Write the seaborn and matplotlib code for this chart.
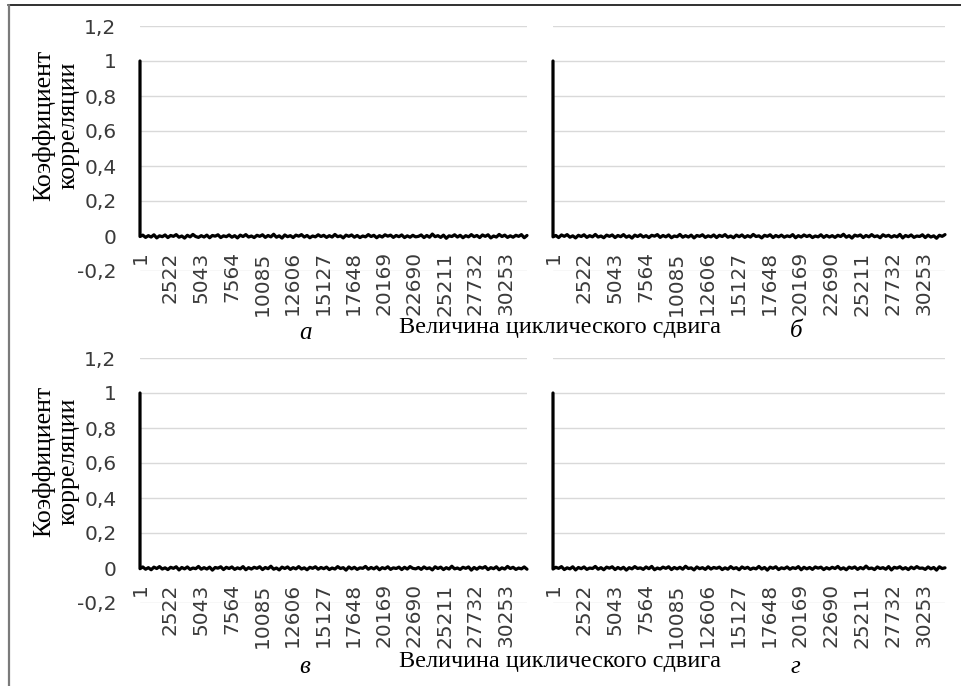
import numpy as np
import pandas as pd
import matplotlib
matplotlib.use("Agg")
import matplotlib.pyplot as plt
from matplotlib.lines import Line2D
import seaborn as sns

# ---------------- data ----------------
x_tick_values = [1, 2522, 5043, 7564, 10085, 12606, 15127, 17648,
                 20169, 22690, 25211, 27732, 30253]
y_tick_values = [-0.2, 0.0, 0.2, 0.4, 0.6, 0.8, 1.0, 1.2]
y_tick_labels = ["-0,2", "0", "0,2", "0,4", "0,6", "0,8", "1", "1,2"]
max_shift = 32000
peak_value = 1.0

# side-lobe values (in thousandths)
noise_a_milli = [-3, 5, -8, 2, -6, 7, -11, 1, -4, 6, -9, 3, -2, 8, -7, 0, -12, 4, -5, 9,
                 -3, -8, 2, -6, 5, -10, 3, -1, 7, -9, 1, -4, 6, -7, 2, -11, 5, -3, 8, -6,
                 0, -9, 4, -2, 7, -8, 3, -5, 10, -7, 1, -12, 6, -4, 2, -9, 5, -1, 8, -6,
                 3, -10, 0, -5, 7, -3, 4, -8, 2, -6, 9, -4, 1, -11, 5, -2, 6, -7, 3, -9,
                 0, -5, 8, -3, 4, -10, 2, -6, 7, -1, 5, -8, 3, -4, 6, -9, 1, -7, 4, -5,
                 -2, 6, -9, 3, -7, 11, -4, 2, -8, 5, -13, 1, -3, 7, -6, 4, -10, 2, -5, 8,
                 -4, 3, -9, 6, -2, 7, -11, 0, -6, 9, -3, 5, -8, 1, -7, 4, -2, 8, -10, 3]
noise_b_milli = [-5, 3, -9, 6, -2, 8, -7, 1, -11, 4, -3, 7, -8, 2, -5, 9, -6, 0, -10, 5,
                 -2, 6, -9, 3, -4, 8, -7, 1, -12, 5, -3, 7, -6, 2, -9, 4, -1, 8, -8, 3,
                 -5, 6, -10, 0, -4, 9, -7, 2, -6, 5, -11, 3, -2, 7, -8, 1, -5, 6, -9, 4,
                 -3, 8, -7, 0, -10, 5, -4, 6, -8, 2, -6, 9, -3, 1, -11, 4, -2, 7, -9, 3,
                 -5, 5, -7, 1, -4, 8, -10, 2, -6, 6, -3, 4, -9, 0, -5, 7, -8, 3, -6, 2,
                 -8, 4, -3, 10, -7, 2, -12, 5, -1, 6, -9, 3, -5, 8, -4, 1, -10, 7, -2, 4,
                 -7, 2, -5, 9, -11, 3, -4, 6, -8, 0, -3, 7, -9, 5, -6, 1, -13, 4, -2, 8]
noise_c_milli = [-4, 6, -7, 2, -10, 5, -3, 8, -6, 1, -9, 4, -2, 7, -11, 3, -5, 6, -8, 0,
                 -4, 9, -7, 2, -6, 5, -12, 3, -1, 7, -9, 4, -3, 6, -8, 1, -5, 8, -10, 2,
                 -6, 4, -2, 7, -9, 3, -4, 10, -7, 0, -11, 5, -3, 6, -8, 2, -5, 8, -6, 1,
                 -10, 4, -2, 7, -7, 3, -4, 5, -9, 0, -6, 8, -3, 2, -12, 6, -5, 4, -8, 1,
                 -2, 9, -7, 3, -5, 6, -10, 2, -4, 7, -8, 1, -3, 5, -9, 4, -6, 8, -2, -5,
                 3, -8, 6, -4, 1, -11, 7, -3, 5, -9, 2, -6, 10, -5, 0, -8, 4, -2, 6, -12,
                 3, -7, 5, -1, 8, -9, 2, -4, 7, -10, 1, -6, 9, -3, 4, -8, 0, -5, 6, -7]
noise_d_milli = [-6, 4, -2, 8, -9, 1, -5, 7, -11, 3, -4, 6, -8, 0, -3, 9, -7, 2, -10, 5,
                 -1, 7, -9, 3, -6, 4, -12, 2, -5, 8, -3, 1, -8, 6, -4, 9, -10, 0, -6, 5,
                 -2, 7, -9, 3, -5, 4, -7, 10, -3, 1, -11, 6, -4, 2, -8, 7, -6, 3, -2, 5,
                 -9, 1, -7, 8, -4, 2, -10, 6, -3, 4, -8, 0, -5, 9, -6, 3, -12, 5, -2, 7,
                 -9, 1, -4, 6, -7, 2, -3, 8, -10, 4, -5, 3, -8, 6, -1, 5, -9, 2, -6, 4,
                 -3, 9, -7, 1, -10, 5, -2, 6, -8, 3, -5, 11, -4, 0, -9, 6, -3, 2, -7, 8,
                 -11, 4, -1, 7, -6, 2, -9, 5, -4, 8, -2, 0, -8, 6, -5, 3, -12, 7, -3, 1]

panel_letters = ["а", "б", "в", "г"]
x_title = "Величина циклического сдвига"
y_title = "Коэффициент\nкорреляции"


def make_series(noise_milli):
    vals = np.asarray(noise_milli, dtype=float) / 1000.0
    shifts = np.linspace(2, max_shift, len(vals))
    return pd.DataFrame({"shift": np.concatenate([[1], shifts]),
                         "r": np.concatenate([[peak_value], vals])})


series = [make_series(n) for n in (noise_a_milli, noise_b_milli, noise_c_milli, noise_d_milli)]

# ---------------- figure ----------------
sns.set_theme(style="white")
plt.rcParams["font.family"] = ["DejaVu Sans"]

W, H = 961, 686
fig = plt.figure(figsize=(W / 100, H / 100), dpi=100)
fig.patch.set_facecolor("white")


def rect(x0, x1, ytop, ybot):
    return [x0 / W, (H - ybot) / H, (x1 - x0) / W, (ybot - ytop) / H]


rects = [rect(140, 527, 26, 271), rect(553, 945, 26, 271),
         rect(140, 527, 358, 603), rect(553, 945, 358, 603)]

tick_color = "#3a3a3a"
serif = ["Liberation Serif", "DejaVu Serif"]

for i, (r, df) in enumerate(zip(rects, series)):
    ax = fig.add_axes(r)
    ax.set_facecolor("white")
    ax.set_ylim(-0.2, 1.2)
    ax.set_xlim(1, max_shift)
    ax.set_yticks(y_tick_values)
    ax.grid(axis="y", color="#d9d9d9", lw=1.0)
    ax.grid(axis="x", visible=False)
    ax.set_axisbelow(True)
    sns.lineplot(data=df, x="shift", y="r", ax=ax, color="black", lw=2.3,
                 sort=False, estimator=None, clip_on=False)
    for s in ("top", "right", "left"):
        ax.spines[s].set_visible(False)
    ax.spines["bottom"].set_position(("data", 0))
    ax.spines["bottom"].set_color("none")
    ax.set_xticks(x_tick_values)
    ax.set_xticklabels([str(v) for v in x_tick_values], rotation=90,
                       fontsize=14.5, color=tick_color)
    ax.tick_params(axis="x", length=0, pad=11)
    if i % 2 == 0:
        ax.set_yticklabels(y_tick_labels, fontsize=14.5, color=tick_color)
        ax.tick_params(axis="y", length=0, pad=17)
    else:
        ax.set_yticklabels([])
        ax.tick_params(axis="y", length=0)
    ax.set_xlabel("")
    ax.set_ylabel("")

# y titles
for yc in (125, 461):
    fig.text(56 / W, 1 - yc / H, y_title, rotation=90, ha="center", va="center",
             fontsize=18.5, family=serif, color="black", linespacing=1.15)

# x titles and panel letters
for yc in (328, 662):
    fig.text(560 / W, 1 - yc / H, x_title, ha="center", va="center",
             fontsize=17.5, family=serif, color="black")

letter_pos = [(306, 333), (796, 331), (305, 667), (795, 667)]
for (xp, yp), letter in zip(letter_pos, panel_letters):
    fig.text(xp / W, 1 - yp / H, letter, ha="center", va="center",
             fontsize=18, family=serif, style="italic", color="black")

# outer frame (top and left edges)
fig.add_artist(Line2D([8 / W, 1.0], [1 - 5 / H, 1 - 5 / H], transform=fig.transFigure,
                      color="#202020", lw=1.3))
fig.add_artist(Line2D([8.5 / W, 8.5 / W], [0, 1 - 5 / H], transform=fig.transFigure,
                      color="#7a7a7a", lw=1.6))

fig.savefig("out.png", dpi=100, facecolor="white")
